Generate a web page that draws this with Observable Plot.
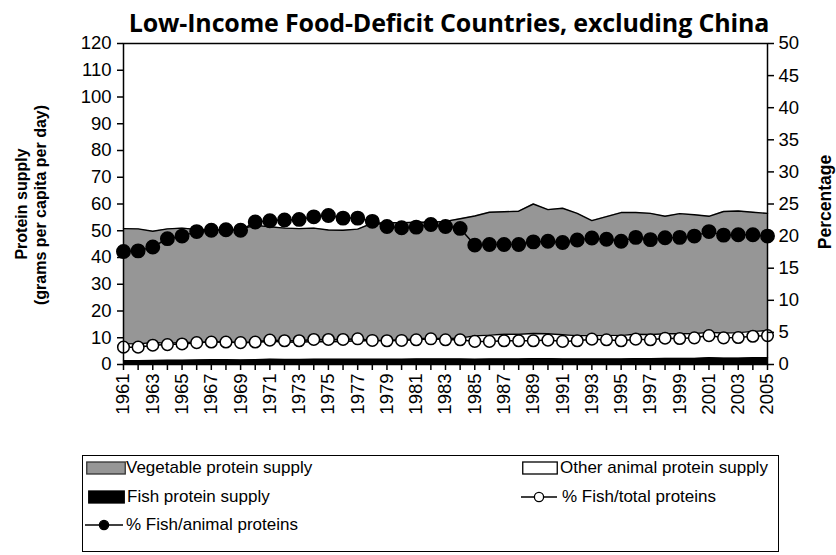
<!DOCTYPE html>
<html><head><meta charset="utf-8">
<script src="https://cdn.jsdelivr.net/npm/d3@7"></script>
<script src="https://cdn.jsdelivr.net/npm/@observablehq/plot@0.6"></script>
<style>
body{margin:0;background:#fff;font-family:"Liberation Sans",Arial,sans-serif;color:#000;}
#wrap{position:relative;width:836px;height:555px;overflow:hidden;}
#title{position:absolute;left:0;width:898px;top:6px;text-align:center;font-family:"Open Sans",sans-serif;font-weight:700;font-size:25px;letter-spacing:-0.15px;line-height:32px;}
#chart{position:absolute;left:0;top:30px;}
#chart svg text{font-family:"Liberation Sans",Arial,sans-serif !important;}
.vlab{position:absolute;transform:translate(-50%,-50%) rotate(-90deg);white-space:nowrap;font-weight:700;font-size:16px;line-height:18px;}
#legend{position:absolute;left:82px;top:455px;width:695px;height:95px;border:1px solid #000;font-size:17px;}
.it{position:absolute;height:20px;line-height:20px;white-space:nowrap;}
.it svg{position:absolute;top:0;}
</style></head><body>
<div id="wrap">
  <div id="title">Low-Income Food-Deficit Countries, excluding China</div>
  <div id="chart"></div>
  <div class="vlab" style="left:22px;top:204px;">Protein supply</div>
  <div class="vlab" style="left:41px;top:205px;">(grams per capita per day)</div>
  <div class="vlab" style="left:825px;top:202px;font-size:17.5px;">Percentage</div>
  <div id="legend"></div>
</div>
<script>
const years = [1961,1962,1963,1964,1965,1966,1967,1968,1969,1970,1971,1972,1973,1974,1975,1976,1977,1978,1979,1980,1981,1982,1983,1984,1985,1986,1987,1988,1989,1990,1991,1992,1993,1994,1995,1996,1997,1998,1999,2000,2001,2002,2003,2004,2005];
const fishProtein = [1.4,1.4,1.5,1.6,1.6,1.7,1.8,1.8,1.7,1.8,2.0,1.9,1.9,2.0,2.0,2.0,2.0,2.0,2.0,2.0,2.1,2.1,2.1,2.1,2.0,2.1,2.1,2.1,2.2,2.2,2.1,2.1,2.1,2.1,2.1,2.2,2.2,2.3,2.3,2.3,2.5,2.4,2.4,2.5,2.5];
const otherAnimalProtein = [6.4,6.3,6.7,6.4,6.6,6.6,6.6,6.6,6.5,6.4,6.7,6.5,6.4,6.6,6.5,6.6,6.9,6.9,7.1,7.3,7.5,7.7,7.5,7.8,8.7,8.9,9.2,9.2,9.4,9.3,9.0,8.7,8.7,8.8,8.8,9.1,9.0,9.2,9.2,9.3,9.5,9.4,9.5,9.9,10.2];
const vegetableProtein = [43.0,43.0,41.6,42.7,42.8,42.2,41.9,42.1,42.4,43.8,42.8,42.6,42.5,42.4,41.8,41.6,41.7,43.9,43.9,43.7,43.6,43.4,43.9,44.6,44.8,45.9,45.8,46.0,48.4,46.4,47.3,45.7,43.0,44.4,45.9,45.5,45.3,43.9,44.9,44.4,43.4,45.4,45.5,44.5,43.8];
const pctFishTotal = [2.7,2.7,3.0,3.1,3.2,3.4,3.5,3.5,3.4,3.5,3.8,3.7,3.7,3.9,3.9,3.9,4.0,3.75,3.7,3.75,3.85,4.0,3.85,3.85,3.6,3.6,3.7,3.7,3.7,3.8,3.6,3.7,3.95,3.85,3.7,3.95,3.85,4.1,4.05,4.15,4.5,4.15,4.2,4.4,4.5];
const pctFishAnimal = [17.6,17.7,18.3,19.6,20.0,20.7,20.9,21.0,20.9,22.2,22.4,22.5,22.6,23.0,23.2,22.8,22.8,22.3,21.5,21.3,21.4,21.8,21.5,21.2,18.6,18.7,18.7,18.7,19.1,19.2,19.0,19.4,19.7,19.5,19.2,19.8,19.45,19.75,19.8,20.0,20.7,20.15,20.2,20.2,20.0];

const seriesNames = ["Fish protein supply","Other animal protein supply","Vegetable protein supply"];
const seriesColors = ["#000000","#ffffff","#969696"];
const seriesValues = [fishProtein, otherAnimalProtein, vegetableProtein];
const leftTicks = [0,10,20,30,40,50,60,70,80,90,100,110,120];
const rightTicks = [0,5,10,15,20,25,30,35,40,45,50];
const K = 120/50; // right axis (percent) to left axis (grams) ratio

const areaRows = [];
seriesNames.forEach((s, j) => years.forEach((yr, i) => areaRows.push({year: yr, series: s, value: seriesValues[j][i]})));
const pctRows = years.map((yr, i) => ({year: yr, ft: pctFishTotal[i], fa: pctFishAnimal[i]}));

const chart = Plot.plot({
  width: 836, height: 430,
  marginLeft: 123, marginRight: 69, marginTop: 13, marginBottom: 96,
  x: {domain: [1961, 2005]},
  y: {domain: [0, 120]},
  color: {domain: seriesNames, range: seriesColors},
  style: {fontFamily: "Liberation Sans, Arial, sans-serif", fontSize: "17px", color: "#000", background: "transparent"},
  marks: [
    Plot.areaY(areaRows, Plot.stackY({x: "year", y: "value", z: "series", fill: "series", order: seriesNames})),
    Plot.lineY(areaRows, Plot.stackY2({x: "year", y: "value", z: "series", order: seriesNames, stroke: "#000", strokeWidth: 1.4})),
    Plot.line(pctRows, {x: "year", y: d => d.ft * K, stroke: "#000", strokeWidth: 1.5}),
    Plot.dot(pctRows, {x: "year", y: d => d.ft * K, r: 5.8, fill: "#fff", stroke: "#000", strokeWidth: 1.5}),
    Plot.line(pctRows, {x: "year", y: d => d.fa * K, stroke: "#000", strokeWidth: 1.5}),
    Plot.dot(pctRows, {x: "year", y: d => d.fa * K, r: 6.7, fill: "#000", stroke: "#000"}),
    Plot.frame({stroke: "#000", strokeWidth: 1.5}),
    Plot.axisY({anchor: "left", ticks: leftTicks, tickSize: 6, tickPadding: 4, strokeWidth: 1.5, text: null, label: null}),
    Plot.text(leftTicks, {x: 1961, y: d => d, text: d => String(d), frameAnchor: "left", textAnchor: "end", dx: -12, fontSize: 18.5}),
    Plot.axisY({anchor: "right", ticks: rightTicks.map(v => v * K), tickSize: 6, tickPadding: 4, strokeWidth: 1.5, text: null, label: null}),
    Plot.text(rightTicks, {x: 2005, y: d => d * K, text: d => String(d), textAnchor: "start", dx: 11, fontSize: 18.5}),
    Plot.axisX({ticks: years, tickSize: 6, tickPadding: 3, strokeWidth: 1.5, text: null, label: null}),
    Plot.text(years.filter(y => y % 2 === 1), {x: d => d, y: 0, text: d => String(d), rotate: -90, textAnchor: "end", dy: 9, fontSize: 18.5})
  ]
});
document.getElementById("chart").appendChild(chart);

// legend
const legend = document.getElementById("legend");
const items = [
  {label: "Vegetable protein supply", kind: "box", fill: "#969696", stroke: "#333", x: 3, sw: 40, tx: 43, row: 0},
  {label: "Other animal protein supply", kind: "box", fill: "#fff", stroke: "#000", x: 439, sw: 36, tx: 477, row: 0},
  {label: "Fish protein supply", kind: "box", fill: "#000", stroke: "#000", x: 5, sw: 37, tx: 44, row: 1},
  {label: "% Fish/total proteins", kind: "dot", fill: "#fff", x: 438, sw: 36, tx: 479, row: 1},
  {label: "% Fish/animal proteins", kind: "dot", fill: "#000", x: 2, sw: 38, tx: 43, row: 2}
];
const rowTop = [2, 31, 59];
items.forEach(it => {
  const d = document.createElement("div");
  d.className = "it";
  d.style.left = it.x + "px";
  d.style.top = rowTop[it.row] + "px";
  let svg;
  if (it.kind === "box") {
    svg = `<svg width="${it.sw}" height="20" style="left:0"><rect x="0.75" y="4" width="${it.sw - 1.5}" height="12" fill="${it.fill}" stroke="${it.stroke}" stroke-width="1.3"/></svg>`;
  } else {
    svg = `<svg width="${it.sw}" height="20" style="left:0"><line x1="0" x2="${it.sw}" y1="10" y2="10" stroke="#000" stroke-width="1.5"/><circle cx="${it.sw / 2}" cy="10" r="4.6" fill="${it.fill}" stroke="#000" stroke-width="1.3"/></svg>`;
  }
  d.innerHTML = svg + `<span style="position:absolute;left:${it.tx - it.x}px;top:0">${it.label}</span>`;
  legend.appendChild(d);
});
</script>
</body></html>
